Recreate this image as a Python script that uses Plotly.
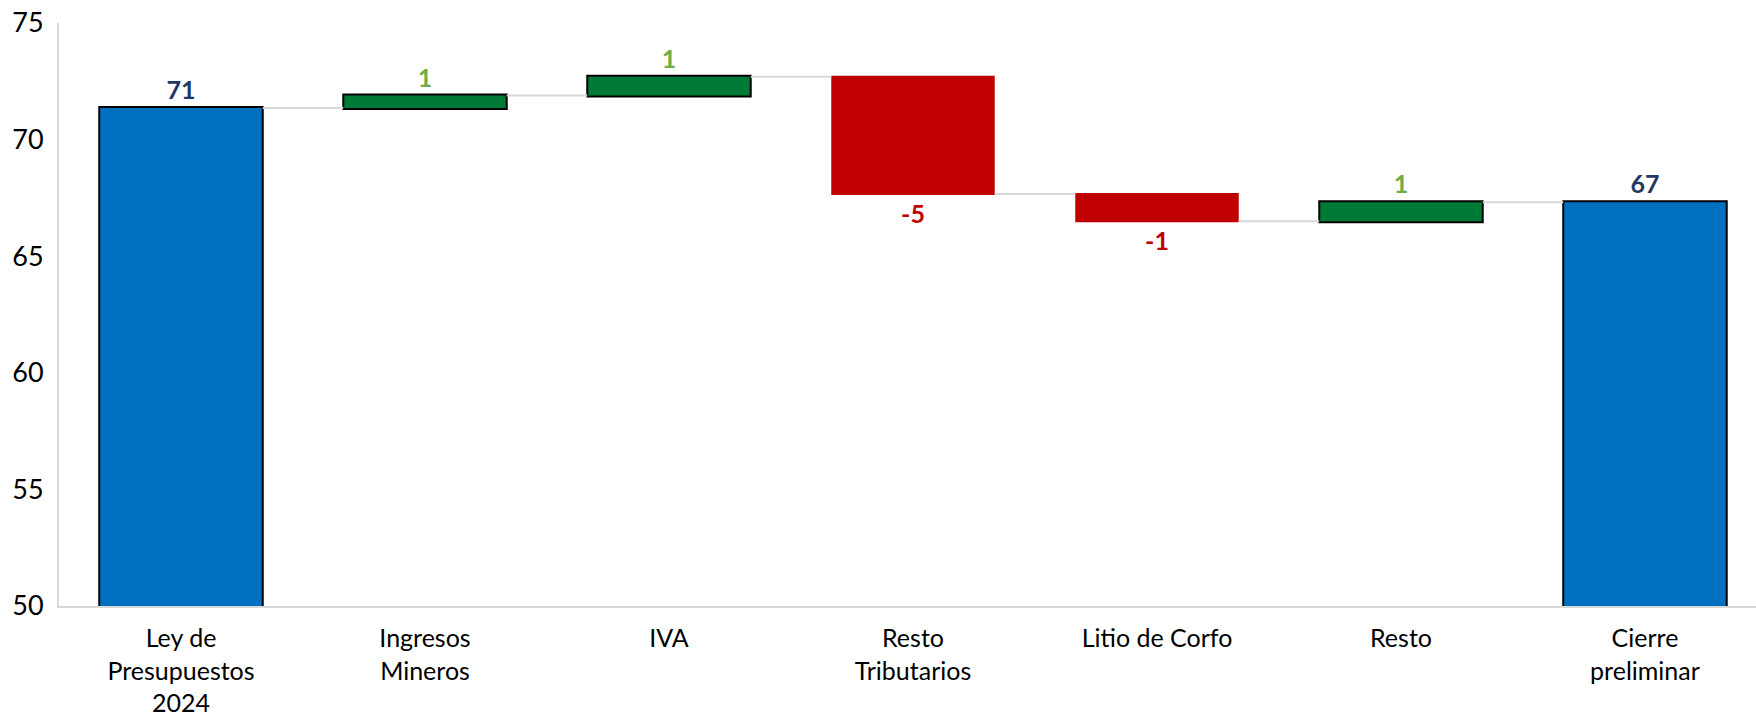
import plotly.graph_objects as go

categories = ["Ley de<br>Presupuestos<br>2024", "Ingresos<br>Mineros", "IVA", "Resto<br>Tributarios",
              "Litio de Corfo", "Resto", "Cierre<br>preliminar"]
measures = ["absolute", "relative", "relative", "relative", "relative", "relative", "total"]
values = [71.36, 0.53, 0.81, -5.03, -1.17, 0.81, 0]
labels = ["71", "1", "1", "-5", "-1", "1", "67"]
label_colors = ["#1F3864", "#70AD47", "#70AD47", "#C00000", "#C00000", "#70AD47", "#1F3864"]
y_ticks = [50, 55, 60, 65, 70, 75]

FONT = "Lato"

fig = go.Figure(go.Waterfall(
    x=categories,
    y=values,
    measure=measures,
    text=labels,
    textposition="outside",
    textfont=dict(family=FONT, size=25, color=label_colors, weight="bold"),
    width=0.67,
    increasing=dict(marker=dict(color="#007A37", line=dict(color="#000000", width=2))),
    decreasing=dict(marker=dict(color="#C00000", line=dict(color="#C00000", width=0))),
    totals=dict(marker=dict(color="#0070C0", line=dict(color="#000000", width=2))),
    connector=dict(line=dict(color="#D9D9D9", width=2)),
    cliponaxis=False,
))

fig.update_layout(
    width=1756, height=718,
    margin=dict(l=59, r=0, t=23, b=112, autoexpand=False),
    paper_bgcolor="white", plot_bgcolor="white",
    showlegend=False,
    font=dict(family=FONT, size=25, color="#000000"),
    xaxis=dict(range=[-0.5, 6.455], showline=True, linecolor="#D9D9D9", linewidth=2, automargin=False,
               showgrid=False, ticks="", ticklabelstandoff=9,
               tickfont=dict(family=FONT, size=25, color="#000000")),
    yaxis=dict(range=[50, 75], tickvals=y_ticks, showline=True, linecolor="#D9D9D9", linewidth=2,
               automargin=False, showgrid=False, zeroline=False, ticks="", ticklabelstandoff=8,
               tickfont=dict(family=FONT, size=27, color="#000000")),
)

fig.write_html("out.html", config={"displayModeBar": False},
               post_script="document.body.style.margin='0';document.body.style.overflow='hidden';")
